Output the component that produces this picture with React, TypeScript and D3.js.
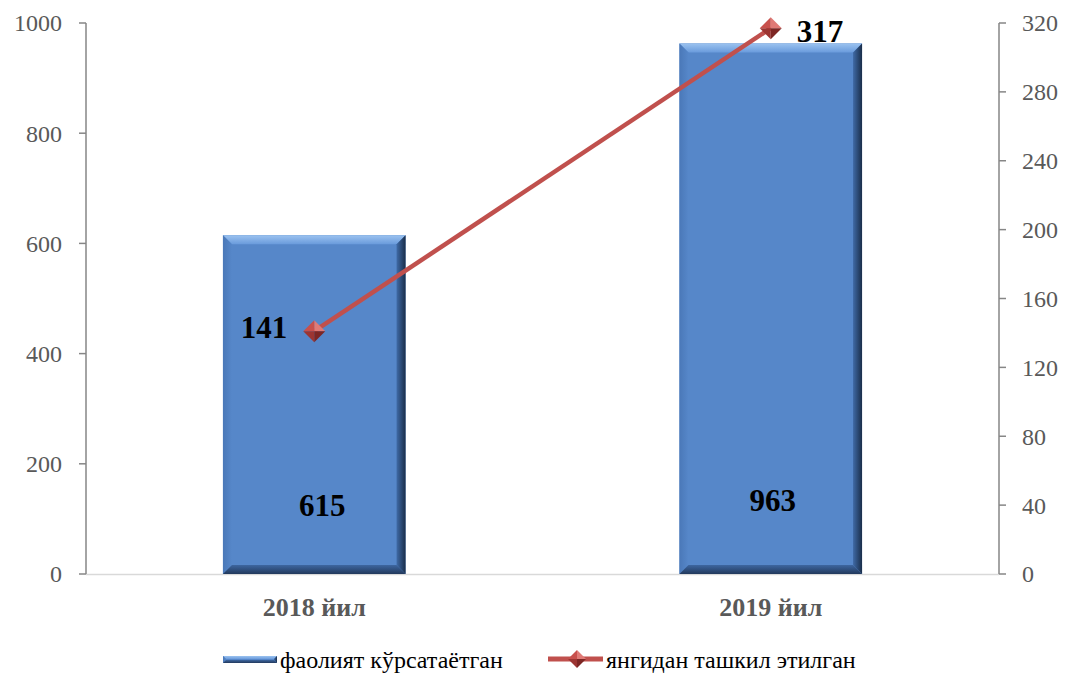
import React from "react";
import * as d3 from "d3";

const categories = ["2018 йил", "2019 йил"];
const barValues = [615, 963];
const lineValues = [141, 317];
const leftTicks = [0, 200, 400, 600, 800, 1000];
const rightTicks = [0, 40, 80, 120, 160, 200, 240, 280, 320];
const seriesNames = ["фаолият кўрсатаётган", "янгидан ташкил этилган"];

const W = 1065, H = 673;
const M = { left: 86, right: 999, top: 23, bottom: 574 };

export default function App() {
  const x = d3.scaleBand<string>().domain(categories).range([M.left, M.right]).paddingInner(0.6).paddingOuter(0.3);
  const yL = d3.scaleLinear().domain([0, 1000]).range([M.bottom, M.top]);
  const yR = d3.scaleLinear().domain([0, 320]).range([M.bottom, M.top]);
  const bw = x.bandwidth();
  const cx = (c: string) => (x(c) as number) + bw / 2;
  const linePts: [number, number][] = categories.map((c, i) => [cx(c), yR(lineValues[i])]);
  const lineGen = d3.line();
  const font = "'Liberation Serif', 'Times New Roman', serif";

  const bevelBar = (x0: number, y0: number, w: number, h: number, key: string | number, b = 9) => (
    <g key={key}>
      <rect x={x0} y={y0} width={w} height={h} fill="#5687c9" />
      <polygon points={`${x0},${y0} ${x0 + w},${y0} ${x0 + w - b},${y0 + b} ${x0 + b},${y0 + b}`} fill="url(#bvTop)" />
      <polygon points={`${x0},${y0} ${x0 + b},${y0 + b} ${x0 + b},${y0 + h - b} ${x0},${y0 + h}`} fill="url(#bvLeft)" />
      <polygon points={`${x0 + w},${y0} ${x0 + w},${y0 + h} ${x0 + w - b},${y0 + h - b} ${x0 + w - b},${y0 + b}`} fill="url(#bvRight)" />
      <polygon points={`${x0},${y0 + h} ${x0 + w},${y0 + h} ${x0 + w - b},${y0 + h - b} ${x0 + b},${y0 + h - b}`} fill="url(#bvBottom)" />
    </g>
  );

  const diamond = (px: number, py: number, r: number, key: string | number) => (
    <g key={key}>
      <polygon points={`${px},${py - r} ${px + r},${py} ${px},${py}`} fill="#e07a76" />
      <polygon points={`${px},${py - r} ${px - r},${py} ${px},${py}`} fill="#c8504c" />
      <polygon points={`${px - r},${py} ${px},${py + r} ${px},${py}`} fill="#9c3532" />
      <polygon points={`${px + r},${py} ${px},${py + r} ${px},${py}`} fill="#7d2624" />
    </g>
  );

  return (
    <svg width={W} height={H} style={{ position: "absolute", left: 0, top: 0 }}>
      <defs>
        <linearGradient id="bvTop" x1="0" y1="0" x2="0" y2="1">
          <stop offset="0" stopColor="#9cc3f0" />
          <stop offset="1" stopColor="#6a9bdc" />
        </linearGradient>
        <linearGradient id="bvLeft" x1="0" y1="0" x2="1" y2="0">
          <stop offset="0" stopColor="#4a78b8" />
          <stop offset="1" stopColor="#5687c9" />
        </linearGradient>
        <linearGradient id="bvRight" x1="0" y1="0" x2="1" y2="0">
          <stop offset="0" stopColor="#3f6aa6" />
          <stop offset="1" stopColor="#1a2e4a" />
        </linearGradient>
        <linearGradient id="bvBottom" x1="0" y1="0" x2="0" y2="1">
          <stop offset="0" stopColor="#3d66a0" />
          <stop offset="1" stopColor="#22395c" />
        </linearGradient>
      </defs>
      <rect width={W} height={H} fill="#fff" />

      <line x1={M.left} x2={M.right} y1={M.bottom + 0.5} y2={M.bottom + 0.5} stroke="#d9d9d9" strokeWidth={1.5} />

      <line x1={M.left} x2={M.left} y1={M.top} y2={M.bottom} stroke="#868686" strokeWidth={1.5} />
      {leftTicks.map((t) => (
        <g key={"l" + t}>
          <line x1={M.left - 7} x2={M.left} y1={yL(t)} y2={yL(t)} stroke="#868686" strokeWidth={1.5} />
          <text x={62} y={yL(t)} dy="0.35em" textAnchor="end" fontFamily={font} fontSize={24} fill="#595959">{t}</text>
        </g>
      ))}

      <line x1={M.right} x2={M.right} y1={M.top} y2={M.bottom} stroke="#868686" strokeWidth={1.5} />
      {rightTicks.map((t) => (
        <g key={"r" + t}>
          <line x1={M.right} x2={M.right + 7} y1={yR(t)} y2={yR(t)} stroke="#868686" strokeWidth={1.5} />
          <text x={1022} y={yR(t)} dy="0.35em" textAnchor="start" fontFamily={font} fontSize={24} fill="#595959">{t}</text>
        </g>
      ))}

      {categories.map((c, i) => bevelBar(x(c) as number, yL(barValues[i]), bw, M.bottom - yL(barValues[i]), "b" + i))}

      {categories.map((c, i) => (
        <text key={"bl" + i} x={cx(c) + (i === 0 ? 8 : 2)} y={[505, 500][i]} dy="0.35em" textAnchor="middle" fontFamily={font} fontWeight="bold" fontSize={31} fill="#000">{barValues[i]}</text>
      ))}

      <path d={lineGen(linePts) || ""} fill="none" stroke="#c0504d" strokeWidth={4.5} />
      {linePts.map((p, i) => diamond(p[0], p[1], 11, "d" + i))}
      <text x={linePts[0][0] - 27} y={linePts[0][1] - 4} dy="0.35em" textAnchor="end" fontFamily={font} fontWeight="bold" fontSize={31} fill="#000">{lineValues[0]}</text>
      <text x={linePts[1][0] + 26} y={linePts[1][1] + 3} dy="0.35em" textAnchor="start" fontFamily={font} fontWeight="bold" fontSize={31} fill="#000">{lineValues[1]}</text>

      {categories.map((c) => (
        <text key={"c" + c} x={cx(c)} y={607} dy="0.35em" textAnchor="middle" fontFamily={font} fontWeight="bold" fontSize={26} fill="#595959">{c}</text>
      ))}

      {bevelBar(223, 656, 54, 7, "lg", 3)}
      <text x={280} y={660} dy="0.35em" fontFamily={font} fontSize={24} fill="#000">{seriesNames[0]}</text>
      <line x1={548} x2={603} y1={659} y2={659} stroke="#c0504d" strokeWidth={5} />
      {diamond(577, 659, 9, "ld")}
      <text x={606} y={660} dy="0.35em" fontFamily={font} fontSize={24} fill="#000">{seriesNames[1]}</text>
    </svg>
  );
}
